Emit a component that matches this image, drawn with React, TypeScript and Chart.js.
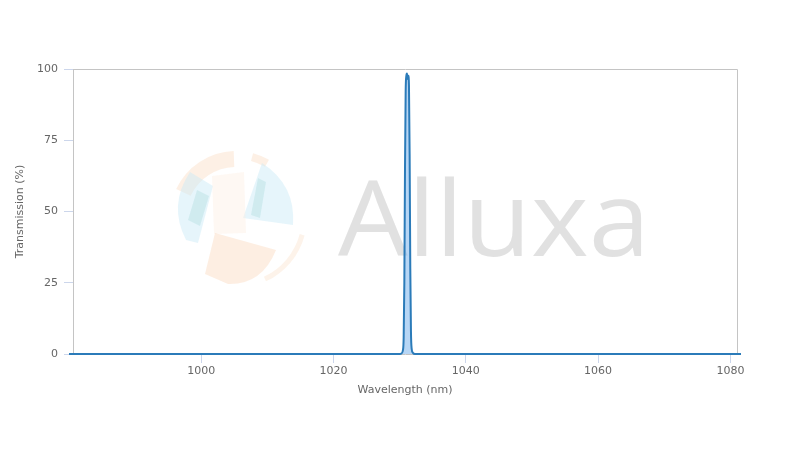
import React, { useEffect, useRef } from "react";
import { Chart, registerables } from "chart.js";

Chart.register(...registerables);

const wavelength = [980, 1030.0, 1030.3, 1030.5, 1030.6, 1030.7, 1030.8, 1030.9, 1031.0, 1031.1, 1031.2, 1031.3, 1031.4, 1031.5, 1031.6, 1031.7, 1031.8, 1032.0, 1032.3, 1082];
const transmission = [0, 0, 0.3, 1.5, 6, 25, 65, 92, 97.5, 98.4, 96.5, 97.6, 94, 70, 30, 8, 2, 0.4, 0, 0];
const xTicks = [1000, 1020, 1040, 1060, 1080];
const yTicks = [0, 25, 50, 75, 100];
const xTitle = "Wavelength (nm)";
const yTitle = "Transmission (%)";
const watermarkText = "Alluxa";

const FONT = "'DejaVu Sans', sans-serif";
const WM_FONT = "'Open Sans', 'DejaVu Sans', sans-serif";

const plotBorder = {
  id: "plotBorder",
  beforeDatasetsDraw(chart: any) {
    const { ctx, chartArea: a } = chart;
    ctx.save();
    ctx.strokeStyle = "#c4c4c4";
    ctx.lineWidth = 1;
    ctx.beginPath();
    ctx.moveTo(Math.round(a.left) + 0.5, Math.round(a.bottom));
    ctx.lineTo(Math.round(a.left) + 0.5, Math.round(a.top) + 0.5);
    ctx.lineTo(Math.round(a.right) + 0.5, Math.round(a.top) + 0.5);
    ctx.lineTo(Math.round(a.right) + 0.5, Math.round(a.bottom));
    ctx.stroke();
    ctx.restore();
  },
};

const watermark = {
  id: "watermark",
  beforeDraw(chart: any) {
    const { ctx } = chart;
    ctx.save();
    const cx = 236, cy = 217;
    const arcPiece = (a0: number, a1: number, r0: number, r1: number, color: string) => {
      ctx.beginPath();
      ctx.arc(cx, cy, r1, a0, a1);
      ctx.arc(cx, cy, r0, a1, a0, true);
      ctx.closePath();
      ctx.fillStyle = color;
      ctx.fill();
    };
    const deg = Math.PI / 180;
    const orange = "rgba(250,205,170,0.3)";
    const blue = "rgba(200,232,246,0.45)";
    const teal = "rgba(175,220,222,0.4)";
    arcPiece(205 * deg, 268 * deg, 50, 66, orange);
    arcPiece(285 * deg, 300 * deg, 58, 66, orange);
    arcPiece(15 * deg, 65 * deg, 66, 71, "rgba(250,215,185,0.3)");
    ctx.beginPath();
    ctx.moveTo(262, 163);
    ctx.quadraticCurveTo(296, 185, 293, 225);
    ctx.lineTo(243, 218);
    ctx.closePath();
    ctx.fillStyle = blue;
    ctx.fill();
    ctx.beginPath();
    ctx.moveTo(258, 178);
    ctx.lineTo(266, 182);
    ctx.lineTo(260, 218);
    ctx.lineTo(251, 215);
    ctx.closePath();
    ctx.fillStyle = teal;
    ctx.fill();
    ctx.beginPath();
    ctx.moveTo(190, 172);
    ctx.lineTo(213, 186);
    ctx.lineTo(198, 243);
    ctx.lineTo(186, 240);
    ctx.quadraticCurveTo(168, 205, 190, 172);
    ctx.closePath();
    ctx.fillStyle = blue;
    ctx.fill();
    ctx.beginPath();
    ctx.moveTo(197, 190);
    ctx.lineTo(209, 196);
    ctx.lineTo(200, 226);
    ctx.lineTo(188, 220);
    ctx.closePath();
    ctx.fillStyle = teal;
    ctx.fill();
    ctx.beginPath();
    ctx.moveTo(212, 176);
    ctx.lineTo(244, 172);
    ctx.lineTo(246, 233);
    ctx.lineTo(214, 234);
    ctx.closePath();
    ctx.fillStyle = "rgba(253,238,226,0.4)";
    ctx.fill();
    ctx.beginPath();
    ctx.moveTo(215, 233);
    ctx.lineTo(276, 250);
    ctx.quadraticCurveTo(262, 285, 228, 284);
    ctx.lineTo(205, 274);
    ctx.closePath();
    ctx.fillStyle = "rgba(251,215,185,0.42)";
    ctx.fill();

    ctx.font = `400 104px ${WM_FONT}`;
    ctx.fillStyle = "rgba(205,205,205,0.6)";
    ctx.textBaseline = "alphabetic";
    const w = ctx.measureText(watermarkText).width;
    const target = 312;
    ctx.translate(338, 256);
    ctx.scale(target / w, 1);
    ctx.fillText(watermarkText, 0, 0);
    ctx.restore();
  },
};

export default function App() {
  const ref = useRef<HTMLCanvasElement | null>(null);
  useEffect(() => {
    if (!ref.current) return;
    const chart = new Chart(ref.current, {
      type: "line",
      data: {
        datasets: [
          {
            data: wavelength.map((x, i) => ({ x, y: transmission[i] })),
            borderColor: "#2b7bb9",
            backgroundColor: "rgba(124,181,236,0.55)",
            borderWidth: 2,
            borderJoinStyle: "round",
            fill: "origin",
            pointRadius: 0,
            cubicInterpolationMode: "monotone",
            clip: 4,
          } as any,
        ],
      },
      options: {
        animation: false,
        responsive: false,
        events: [],
        layout: { padding: { left: 10, top: 69, right: 63, bottom: 49 } },
        plugins: { legend: { display: false }, tooltip: { enabled: false } },
        scales: {
          x: {
            type: "linear",
            min: 980.6,
            max: 1081,
            afterBuildTicks: (s: any) => {
              s.ticks = xTicks.map((v) => ({ value: v }));
            },
            afterFit: (s: any) => {
              s.height = 47;
            },
            grid: { drawOnChartArea: false, tickLength: 9, color: "#ccd6eb" },
            border: { color: "#c4c4c4" },
            ticks: { color: "#666666", font: { family: FONT, size: 11 }, padding: 2, maxRotation: 0, callback: (v: any) => String(v) },
            title: { display: true, text: xTitle, color: "#666666", font: { family: FONT, size: 11 }, padding: { top: 4, bottom: 4 } },
          },
          y: {
            type: "linear",
            min: 0,
            max: 100,
            afterBuildTicks: (s: any) => {
              s.ticks = yTicks.map((v) => ({ value: v }));
            },
            afterFit: (s: any) => {
              s.width = 63;
            },
            grid: { drawOnChartArea: false, tickLength: 9, color: "#ccd6eb" },
            border: { color: "#c4c4c4" },
            ticks: { color: "#666666", font: { family: FONT, size: 11 }, padding: 6, callback: (v: any) => String(v) },
            title: { display: true, text: yTitle, color: "#666666", font: { family: FONT, size: 11 }, padding: { top: 4, bottom: 4 } },
          },
        },
      },
      plugins: [watermark, plotBorder],
    });
    return () => chart.destroy();
  }, []);
  return (
    <div style={{ position: "absolute", left: 0, top: 0, width: 800, height: 450, background: "#fff" }}>
      <canvas ref={ref} width={800} height={450} />
    </div>
  );
}
